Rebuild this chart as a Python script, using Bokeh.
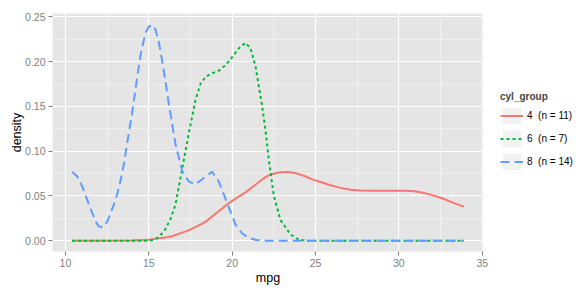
from bokeh.plotting import figure
from bokeh.models import Range1d, FixedTicker, Legend, LegendItem, PrintfTickFormatter
from bokeh.embed import file_html
from bokeh.resources import INLINE

# ---- data (density of mpg by cylinder group) ----
groups = ["4\u00a0 (n = 11)", "6\u00a0 (n = 7)", "8\u00a0 (n = 14)"]

mpg_4 = [10.4, 12.0, 14.0, 15.0, 15.4, 16.0, 16.4, 17.0, 17.4, 18.0, 18.4, 19.0, 19.4, 19.8,
         20.3, 20.8, 21.3, 21.7, 22.0, 22.3, 22.8, 23.3, 23.8, 24.3, 24.8, 25.4, 25.9, 26.5,
         27.1, 27.7, 28.3, 29.0, 29.7, 30.3, 30.8, 31.3, 31.8, 32.3, 32.8, 33.3, 33.9]
dens_4 = [0.0, 0.0, 0.0002, 0.001, 0.002, 0.0035, 0.005, 0.009, 0.0115, 0.017, 0.021, 0.030,
          0.036, 0.042, 0.048, 0.054, 0.061, 0.067, 0.071, 0.074, 0.0762, 0.0768, 0.0755,
          0.0725, 0.0685, 0.065, 0.062, 0.059, 0.057, 0.056, 0.0558, 0.0558, 0.0558, 0.0558,
          0.0556, 0.054, 0.052, 0.049, 0.046, 0.042, 0.038]

mpg_6 = [10.4, 15.0, 15.3, 15.6, 16.0, 16.3, 16.6, 17.0, 17.4, 17.8, 18.1, 18.4, 18.8, 19.2,
         19.6, 20.0, 20.4, 20.8, 21.1, 21.4, 21.8, 22.0, 22.2, 22.5, 22.9, 23.5, 24.0, 24.5, 33.9]
dens_6 = [0.0, 0.0, 0.001, 0.004, 0.013, 0.024, 0.040, 0.080, 0.120, 0.157, 0.175, 0.183,
          0.187, 0.190, 0.196, 0.205, 0.215, 0.221, 0.215, 0.195, 0.150, 0.123, 0.090, 0.050,
          0.023, 0.007, 0.001, 0.0, 0.0]

mpg_8 = [10.4, 10.7, 11.0, 11.5, 11.8, 12.0, 12.2, 12.5, 13.0, 13.25, 13.5, 14.0, 14.5, 14.8,
         15.0, 15.2, 15.4, 15.6, 15.8, 16.0, 16.2, 16.6, 17.0, 17.4, 17.8, 18.3, 18.8, 19.2,
         19.7, 20.2, 20.6, 21.0, 21.5, 22.0, 33.9]
dens_8 = [0.077, 0.072, 0.061, 0.036, 0.022, 0.016, 0.015, 0.021, 0.045, 0.062, 0.085, 0.143,
          0.207, 0.232, 0.239, 0.241, 0.236, 0.222, 0.201, 0.178, 0.153, 0.108, 0.078, 0.066,
          0.063, 0.070, 0.077, 0.066, 0.042, 0.018, 0.008, 0.003, 0.0005, 0.0, 0.0]

x_ticks = [10, 15, 20, 25, 30, 35]
x_minor = [12.5, 17.5, 22.5, 27.5, 32.5]
y_ticks = [0.0, 0.05, 0.10, 0.15, 0.20, 0.25]
y_minor = [0.025, 0.075, 0.125, 0.175, 0.225]

colors = ["#F8766D", "#00BA38", "#619CFF"]
dashes = ["solid", "3 3", "9 5"]

FONT = "Liberation Sans"

p = figure(width=585, height=291, frame_width=431, frame_height=238,
           output_backend="svg", toolbar_location=None,
           x_range=Range1d(9.225, 35.075), y_range=Range1d(-0.0121, 0.2538),
           min_border_left=52, min_border_right=102, min_border_top=13, min_border_bottom=40,
           background_fill_color="#E5E5E5", border_fill_color="white")
p.outline_line_color = None

# grids
p.xaxis.ticker = FixedTicker(ticks=x_ticks, minor_ticks=x_minor)
p.yaxis.ticker = FixedTicker(ticks=y_ticks, minor_ticks=y_minor)
for g in (p.xgrid, p.ygrid):
    g.grid_line_color = "white"
    g.grid_line_width = 1.2
    g.minor_grid_line_color = "#F2F2F2"
    g.minor_grid_line_width = 0.8
p.yaxis.formatter = PrintfTickFormatter(format="%.2f")

for ax in (p.xaxis, p.yaxis):
    ax.axis_line_color = None
    ax.major_tick_line_color = "#7F7F7F"
    ax.major_tick_out = 4
    ax.major_tick_in = 0
    ax.minor_tick_line_color = None
    ax.major_label_text_color = "#7F7F7F"
    ax.major_label_text_font = FONT
    ax.major_label_text_font_size = "10.5px"
    ax.major_label_standoff = 3
    ax.axis_label_text_font = FONT
    ax.axis_label_text_font_size = "12.5px"
    ax.axis_label_text_font_style = "normal"
    ax.axis_label_text_color = "black"
p.xaxis.axis_label = "mpg"
p.yaxis.axis_label = "density"
p.xaxis.axis_label_standoff = 1
p.yaxis.axis_label_standoff = -2

items = []
series = [(mpg_4, dens_4), (mpg_6, dens_6), (mpg_8, dens_8)]
for (xs, ys), lab, c, d in zip(series, groups, colors, dashes):
    # zero-sized rect: only used to draw the grey legend key background
    key = p.rect(x=xs[:1], y=ys[:1], width=0, height=0, fill_color="#F2F2F2", line_color=None)
    r = p.line(xs, ys, line_color=c, line_width=2, line_dash=d)
    items.append(LegendItem(label=lab, renderers=[key, r]))

legend = Legend(items=items, location=(17, 79), title="cyl_group",
                title_text_font=FONT, title_text_font_size="10px", title_text_font_style="bold",
                label_text_font=FONT, label_text_font_size="10px", label_text_color="black",
                glyph_width=23, glyph_height=21, label_standoff=4, spacing=2,
                margin=7, padding=10, title_standoff=3,
                border_line_color=None, background_fill_alpha=0)
p.add_layout(legend, "right")

open("out.html", "w").write(file_html(p, INLINE))
